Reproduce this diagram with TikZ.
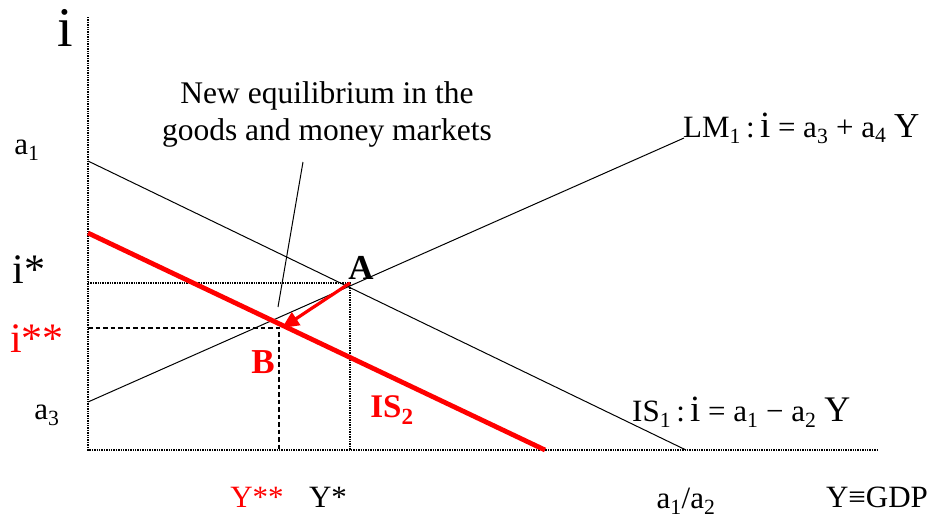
\documentclass[tikz,border=0pt]{standalone}
\usepackage{fontspec}
\setmainfont{Liberation Serif}
\usetikzlibrary{arrows.meta}
\tikzset{
  axisline/.style={line width=1.5pt, dash pattern=on 1.4pt off 1pt},
  guideline/.style={line width=1.5pt, dash pattern=on 1.4pt off 1pt},
  dashguide/.style={line width=1.4pt, dash pattern=on 4.5pt off 3pt},
  curve/.style={line width=1pt},
  iscurve/.style={line width=4.8pt, red},
  movearrow/.style={line width=3.2pt, red, -{Triangle[length=17pt,width=15pt]}},
  pointer/.style={line width=1pt},
  lbl/.style={inner sep=0pt, font=\fontsize{31}{37}\selectfont},
  biglbl/.style={inner sep=0pt, font=\fontsize{42}{48}\selectfont},
  redlbl/.style={lbl, text=red},
  boldlbl/.style={inner sep=0pt, font=\fontsize{35}{40}\selectfont\bfseries},
}
\begin{document}
\begin{tikzpicture}[x=1pt,y=-1pt]
\path[use as bounding box] (0,0) rectangle (930,520);
% key points
\coordinate (O) at (88,450);
\coordinate (ytop) at (88,17);
\coordinate (xend) at (878,450);
\coordinate (is1a) at (88,161);
\coordinate (is1b) at (686,450);
\coordinate (lm1a) at (88,402);
\coordinate (lm1b) at (684,138);
\coordinate (is2a) at (88,233);
\coordinate (is2b) at (545,450);
\coordinate (Apt) at (350,283);
\coordinate (Ai) at (88,283);
\coordinate (Ay) at (350,450);
\coordinate (Bpt) at (279,328);
\coordinate (Bi) at (88,328);
\coordinate (By) at (279,450);
\coordinate (arrowend) at (282,328);
\coordinate (ptrA) at (303,162);
\coordinate (ptrB) at (278,307);
% axes
\draw[axisline] (ytop) -- (O) -- (xend);
% guides
\draw[guideline] (Ai) -- (Apt) -- (Ay);
\draw[dashguide] (Bi) -- (Bpt) -- (By);
% curves
\draw[curve] (is1a) -- (is1b);
\draw[curve] (lm1a) -- (lm1b);
\draw[iscurve] (is2a) -- (is2b);
\draw[movearrow] (Apt) -- (arrowend);
\draw[pointer] (ptrA) -- (ptrB);
% labels
\node[inner sep=0pt, font=\fontsize{56}{60}\selectfont] (ilab) at (65,28) {i};
\node[lbl] (a1lab) at (27,150) {a\textsubscript{1}};
\node[biglbl] (istar) at (29,270) {i*};
\node[biglbl, text=red] (istarstar) at (37,339) {i**};
\node[lbl] (a3lab) at (47,415) {a\textsubscript{3}};
\node[boldlbl] (Alab) at (361,268) {A};
\node[boldlbl, text=red] (Blab) at (263,362) {B};
\node[inner sep=0pt, text=red, font=\fontsize{33}{38}\selectfont\bfseries] (IS2lab) at (392,410) {IS\textsubscript{2}};
\node[lbl, anchor=west] (LMlab) at (683,128) {LM\textsubscript{1}\,:\,{\fontsize{37}{40}\selectfont i} = a\textsubscript{3} + a\textsubscript{4} {\fontsize{35}{40}\selectfont Y}};
\node[lbl, anchor=west] (ISlab) at (632,412) {IS\textsubscript{1}\,:\,{\fontsize{37}{40}\selectfont i} = a\textsubscript{1} − a\textsubscript{2} {\fontsize{36}{40}\selectfont Y}};
\node[redlbl] (Ystarstar) at (257,497) {Y**};
\node[lbl] (Ystar) at (328,497) {Y*};
\node[lbl] (ratio) at (686,501) {a\textsubscript{1}/a\textsubscript{2}};
\node[lbl] (gdp) at (877,497) {Y≡GDP};
\node[lbl, align=center, font=\fontsize{31.5}{37}\selectfont] (note) at (327,114) {New equilibrium in the\\goods and money markets};
\end{tikzpicture}
\end{document}
